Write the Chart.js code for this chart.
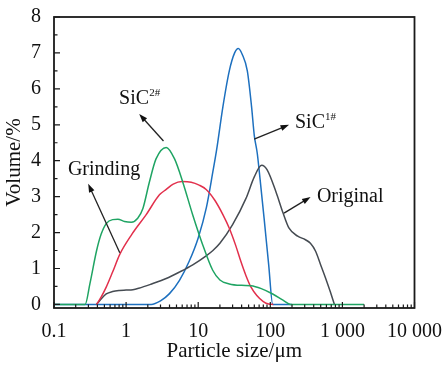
<!DOCTYPE html>
<html>
<head>
<meta charset="utf-8">
<script src="https://cdn.jsdelivr.net/npm/chart.js@4/dist/chart.umd.min.js"></script>
<style>
  html, body { margin: 0; padding: 0; background: #fff; }
  #wrap { width: 446px; height: 366px; }
</style>
</head>
<body>
<div id="wrap"><canvas id="psd"></canvas></div>
<script>
// particle size (um) / volume (%)
const originalSize = [0.39, 0.45, 0.53, 0.65, 0.81, 1.0, 1.24, 1.5, 2.2, 3.6, 5.5, 8.4, 12.9, 16, 20, 30, 46, 60, 76, 90, 120, 150, 182, 240, 307, 360, 425, 500, 580, 680, 775];
const originalVol  = [0, 0.15, 0.29, 0.36, 0.39, 0.4, 0.41, 0.45, 0.56, 0.72, 0.9, 1.1, 1.35, 1.5, 1.7, 2.22, 2.95, 3.55, 3.87, 3.75, 3.13, 2.55, 2.12, 1.9, 1.8, 1.7, 1.48, 1.1, 0.75, 0.35, 0];

const sic1Size = [0.1, 2.23, 3, 4, 5.5, 7.5, 10, 13, 16, 18, 22, 27, 32, 36, 41, 48, 55, 60, 66, 72, 82, 95, 108, 200];
const sic1Vol  = [0, 0, 0.1, 0.3, 0.67, 1.2, 1.85, 2.7, 3.7, 4.3, 5.5, 6.5, 7.0, 7.12, 6.95, 6.5, 5.5, 4.7, 4.2, 3.5, 2.4, 1.1, 0, 0];

const sic2Size = [0.1, 0.27, 0.315, 0.39, 0.45, 0.53, 0.65, 0.77, 0.95, 1.18, 1.45, 1.71, 2.1, 2.6, 3.6, 4.7, 6.1, 8.4, 11.5, 15.9, 20, 27, 40, 54, 75, 108, 150, 192, 2000];
const sic2Vol  = [0, 0, 0.58, 1.5, 1.95, 2.25, 2.36, 2.37, 2.31, 2.29, 2.4, 2.67, 3.4, 4.05, 4.37, 4.05, 3.41, 2.49, 1.67, 0.95, 0.68, 0.57, 0.53, 0.52, 0.44, 0.29, 0.12, 0, 0];

const grindSize = [0.39, 0.45, 0.53, 0.65, 0.82, 1.2, 1.9, 2.9, 3.6, 4.5, 6, 8, 10.3, 12.9, 17, 22, 27, 33, 39, 46, 54, 65, 80, 95, 110];
const grindVol  = [0, 0.2, 0.48, 0.9, 1.4, 1.95, 2.5, 3.05, 3.2, 3.35, 3.42, 3.4, 3.32, 3.2, 2.9, 2.5, 2.12, 1.65, 1.2, 0.8, 0.48, 0.25, 0.08, 0.01, 0];

const xTickValues = [0.1, 1, 10, 100, 1000, 10000];
const xTickLabels = ['0.1', '1', '10', '100', '1 000', '10 000'];
const yTickValues = [0, 1, 2, 3, 4, 5, 6, 7, 8];

// annotation labels in data space: text start, arrow tail (on curve) and arrow head
const noteText   = ['SiC', 'Grinding', 'SiC', 'Original'];
const noteSup    = ['2#', '', '1#', ''];
const noteAt     = [[0.8, 5.72], [0.156, 3.74], [220, 5.05], [443, 3.0]];
const noteArrows = [[[3.3, 4.55], [1.52, 5.3]], [[0.817, 1.44], [0.298, 3.36]], [[59.7, 4.6], [182, 5.0]], [[155, 2.54], [362, 2.99]]];

const pts = (xs, ys) => xs.map((x, i) => ({ x: x, y: ys[i] }));
const serif = "'Liberation Serif', 'Times New Roman', serif";

const frame = {
    id: 'frame',
    afterDraw(chart) {
        const ctx = chart.ctx;
        const a = chart.chartArea;
        const xs = chart.scales.x;
        const ys = chart.scales.y;
        ctx.save();
        ctx.strokeStyle = '#1a1a1a';
        ctx.lineWidth = 1.8;
        ctx.strokeRect(a.left, a.top, a.right - a.left, a.bottom - a.top);

        // inward ticks on the log axis
        ctx.lineWidth = 1.2;
        ctx.beginPath();
        for (let d = 0.1; d < 10000; d *= 10) {
            for (let m = 1; m < 10; m++) {
                const px = xs.getPixelForValue(d * m);
                const len = m === 1 ? 6 : 3.5;
                ctx.moveTo(px, a.bottom);
                ctx.lineTo(px, a.bottom - len);
            }
        }
        ctx.moveTo(xs.getPixelForValue(10000), a.bottom);
        ctx.lineTo(xs.getPixelForValue(10000), a.bottom - 6);
        for (let v = 0; v <= 8; v += 0.5) {
            const py = ys.getPixelForValue(v);
            const len = v % 1 === 0 ? 6 : 3.5;
            ctx.moveTo(a.left, py);
            ctx.lineTo(a.left + len, py);
        }
        ctx.stroke();

        // labels and arrows
        ctx.fillStyle = '#111';
        ctx.strokeStyle = '#222';
        ctx.textBaseline = 'middle';
        ctx.textAlign = 'left';
        noteText.forEach((t, i) => {
            const tx = xs.getPixelForValue(noteAt[i][0]);
            const ty = ys.getPixelForValue(noteAt[i][1]);
            ctx.font = '20px ' + serif;
            ctx.fillText(t, tx, ty);
            if (noteSup[i]) {
                const w = ctx.measureText(t).width;
                ctx.font = '11px ' + serif;
                ctx.fillText(noteSup[i], tx + w, ty - 6);
            }
            const [from, to] = noteArrows[i];
            const x1 = xs.getPixelForValue(from[0]), y1 = ys.getPixelForValue(from[1]);
            const x2 = xs.getPixelForValue(to[0]), y2 = ys.getPixelForValue(to[1]);
            const ang = Math.atan2(y2 - y1, x2 - x1);
            ctx.lineWidth = 1.3;
            ctx.beginPath();
            ctx.moveTo(x1, y1);
            ctx.lineTo(x2 - 6 * Math.cos(ang), y2 - 6 * Math.sin(ang));
            ctx.stroke();
            ctx.beginPath();
            ctx.moveTo(x2, y2);
            ctx.lineTo(x2 - 9 * Math.cos(ang - 0.33), y2 - 9 * Math.sin(ang - 0.33));
            ctx.lineTo(x2 - 9 * Math.cos(ang + 0.33), y2 - 9 * Math.sin(ang + 0.33));
            ctx.closePath();
            ctx.fill();
        });
        ctx.restore();
    }
};

const line = (data, color) => ({
    data: data,
    borderColor: color,
    borderWidth: 1.5,
    pointRadius: 0,
    fill: false,
    cubicInterpolationMode: 'monotone'
});

new Chart(document.getElementById('psd'), {
    type: 'line',
    data: {
        datasets: [
            line(pts(sic2Size, sic2Vol), '#1fa463'),
            line(pts(grindSize, grindVol), '#e2304c'),
            line(pts(originalSize, originalVol), '#454b52'),
            line(pts(sic1Size, sic1Vol), '#1d70bf')
        ]
    },
    options: {
        responsive: true,
        maintainAspectRatio: false,
        animation: false,
        layout: { padding: { top: 13, right: 30, left: 0, bottom: 0 } },
        plugins: {
            legend: { display: false },
            tooltip: { enabled: false }
        },
        scales: {
            x: {
                type: 'logarithmic',
                min: 0.1,
                max: 10000,
                afterBuildTicks: (s) => { s.ticks = xTickValues.map(v => ({ value: v })); },
                afterFit: (s) => { s.height = 58; },
                grid: { display: false },
                border: { display: false },
                ticks: {
                    padding: 4,
                    color: '#111',
                    font: { family: serif, size: 20 },
                    maxRotation: 0,
                    callback: (v) => xTickLabels[xTickValues.indexOf(v)]
                },
                title: {
                    display: true,
                    text: 'Particle size/μm',
                    color: '#111',
                    font: { family: serif, size: 21 },
                    padding: { top: 0, bottom: 2 }
                }
            },
            y: {
                min: -0.1,
                max: 8,
                afterBuildTicks: (s) => { s.ticks = yTickValues.map(v => ({ value: v })); },
                afterFit: (s) => { s.width = 54; },
                grid: { display: false },
                border: { display: false },
                ticks: {
                    padding: 5,
                    color: '#111',
                    font: { family: serif, size: 20 }
                },
                title: {
                    display: true,
                    text: 'Volume/%',
                    color: '#111',
                    font: { family: serif, size: 21 },
                    padding: { top: 2, bottom: 0 }
                }
            }
        }
    },
    plugins: [frame]
});
</script>
</body>
</html>
